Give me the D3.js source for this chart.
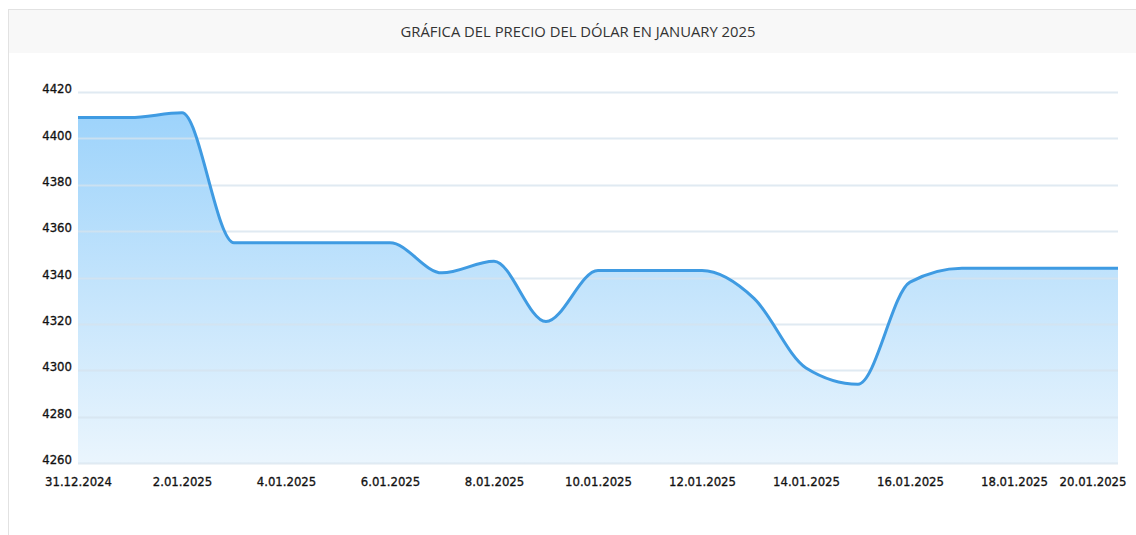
<!DOCTYPE html>
<html>
<head>
<meta charset="utf-8">
<script src="https://cdn.jsdelivr.net/npm/d3@7"></script>
<style>
  body { margin: 0; background: #fff; }
  svg { display: block; }
</style>
</head>
<body>
<div id="chart"></div>
<script>
// chart data, one value per day
const dates = [
  "31.12.2024", "1.01.2025", "2.01.2025", "3.01.2025", "4.01.2025", "5.01.2025",
  "6.01.2025", "7.01.2025", "8.01.2025", "9.01.2025", "10.01.2025", "11.01.2025",
  "12.01.2025", "13.01.2025", "14.01.2025", "15.01.2025", "16.01.2025", "17.01.2025",
  "18.01.2025", "19.01.2025", "20.01.2025"
];
const prices = [
  4409, 4409, 4411, 4355, 4355, 4355,
  4355, 4342, 4347, 4321, 4343, 4343,
  4343, 4331, 4301, 4294, 4338, 4344,
  4344, 4344, 4344
];
const yTicks = [4260, 4280, 4300, 4320, 4340, 4360, 4380, 4400, 4420];
const xTickLabels = [
  "31.12.2024", "2.01.2025", "4.01.2025", "6.01.2025", "8.01.2025", "10.01.2025",
  "12.01.2025", "14.01.2025", "16.01.2025", "18.01.2025", "20.01.2025"
];
const title = "GRÁFICA DEL PRECIO DEL DÓLAR EN JANUARY 2025";

const width = 1136, height = 535;
const card = { left: 8, top: 9, width: 1140, titleH: 43 };
const margin = { top: 92, right: 18, bottom: 72, left: 78 };

const parse = d3.timeParse("%d.%m.%Y");
const data = dates.map((d, i) => ({ date: parse(d), value: prices[i] }));

const x = d3.scaleTime()
  .domain(d3.extent(data, d => d.date))
  .range([margin.left, width - margin.right]);

const y = d3.scaleLinear()
  .domain([d3.min(yTicks), d3.max(yTicks)])
  .range([height - margin.bottom, margin.top]);

const svg = d3.select("#chart")
  .append("svg")
  .attr("width", width)
  .attr("height", height);

// card + title bar
svg.append("rect")
  .attr("x", card.left + 0.5)
  .attr("y", card.top + 0.5)
  .attr("width", card.width)
  .attr("height", height)
  .attr("fill", "#fff")
  .attr("stroke", "#e2e2e2");

svg.append("rect")
  .attr("x", card.left + 1)
  .attr("y", card.top + 1)
  .attr("width", card.width)
  .attr("height", card.titleH)
  .attr("fill", "#f8f8f8");

svg.append("text")
  .attr("x", card.left + card.width / 2)
  .attr("y", card.top + card.titleH / 2 + 1)
  .attr("dy", "0.35em")
  .attr("text-anchor", "middle")
  .style("font", "14.8px 'Open Sans', sans-serif")
  .attr("fill", "#333")
  .text(title);

// gradient for the area
const defs = svg.append("defs");
const grad = defs.append("linearGradient")
  .attr("id", "areaFill")
  .attr("gradientUnits", "userSpaceOnUse")
  .attr("x1", 0).attr("x2", 0)
  .attr("y1", y(d3.max(prices))).attr("y2", y.range()[0]);
grad.append("stop").attr("offset", "0%").attr("stop-color", "#9dd3fb");
grad.append("stop").attr("offset", "100%").attr("stop-color", "#eaf5fd");

const curve = d3.curveMonotoneX;

const area = d3.area()
  .x(d => x(d.date))
  .y0(y.range()[0])
  .y1(d => y(d.value))
  .curve(curve);

const line = d3.line()
  .x(d => x(d.date))
  .y(d => y(d.value))
  .curve(curve);

svg.append("path")
  .datum(data)
  .attr("fill", "url(#areaFill)")
  .attr("d", area);

// grid lines (drawn over the fill, they are faint)
svg.append("g")
  .selectAll("line")
  .data(yTicks)
  .join("line")
  .attr("x1", x.range()[0])
  .attr("x2", x.range()[1])
  .attr("y1", d => Math.round(y(d)) + 0.5)
  .attr("y2", d => Math.round(y(d)) + 0.5)
  .attr("stroke", "#d6e3ee")
  .attr("stroke-opacity", 0.75)
  .attr("stroke-width", 2);

svg.append("path")
  .datum(data)
  .attr("fill", "none")
  .attr("stroke", "#3f9be2")
  .attr("stroke-width", 3)
  .attr("stroke-linejoin", "round")
  .attr("d", line);

// labels look a bit heavy in the original
const labelStyle = sel => sel
  .attr("fill", "#111")
  .attr("stroke", "#111")
  .attr("stroke-width", 0.3)
  .style("font", "13px 'DejaVu Sans Condensed', sans-serif");

// y axis labels, they sit just above their grid line
const yAxis = d3.axisLeft(y)
  .tickValues(yTicks)
  .tickFormat(d3.format("d"))
  .tickSize(0)
  .tickPadding(6);
svg.append("g")
  .attr("transform", `translate(${margin.left},0)`)
  .call(yAxis)
  .call(g => g.select(".domain").remove())
  .call(g => g.selectAll("text").attr("dy", "0.05em").call(labelStyle));

// x axis labels
const fmt = d3.timeFormat("%-d.%m.%Y");
const xAxis = d3.axisBottom(x)
  .tickValues(xTickLabels.map(parse))
  .tickFormat(fmt)
  .tickSize(0)
  .tickPadding(14);
svg.append("g")
  .attr("transform", `translate(0,${y.range()[0]})`)
  .call(xAxis)
  .call(g => g.select(".domain").remove())
  .call(g => g.selectAll("text").call(labelStyle))
  .call(g => g.selectAll(".tick").filter((d, i, n) => i === n.length - 1)
    .select("text")
    .attr("text-anchor", "end")
    .attr("x", 8));
</script>
</body>
</html>
